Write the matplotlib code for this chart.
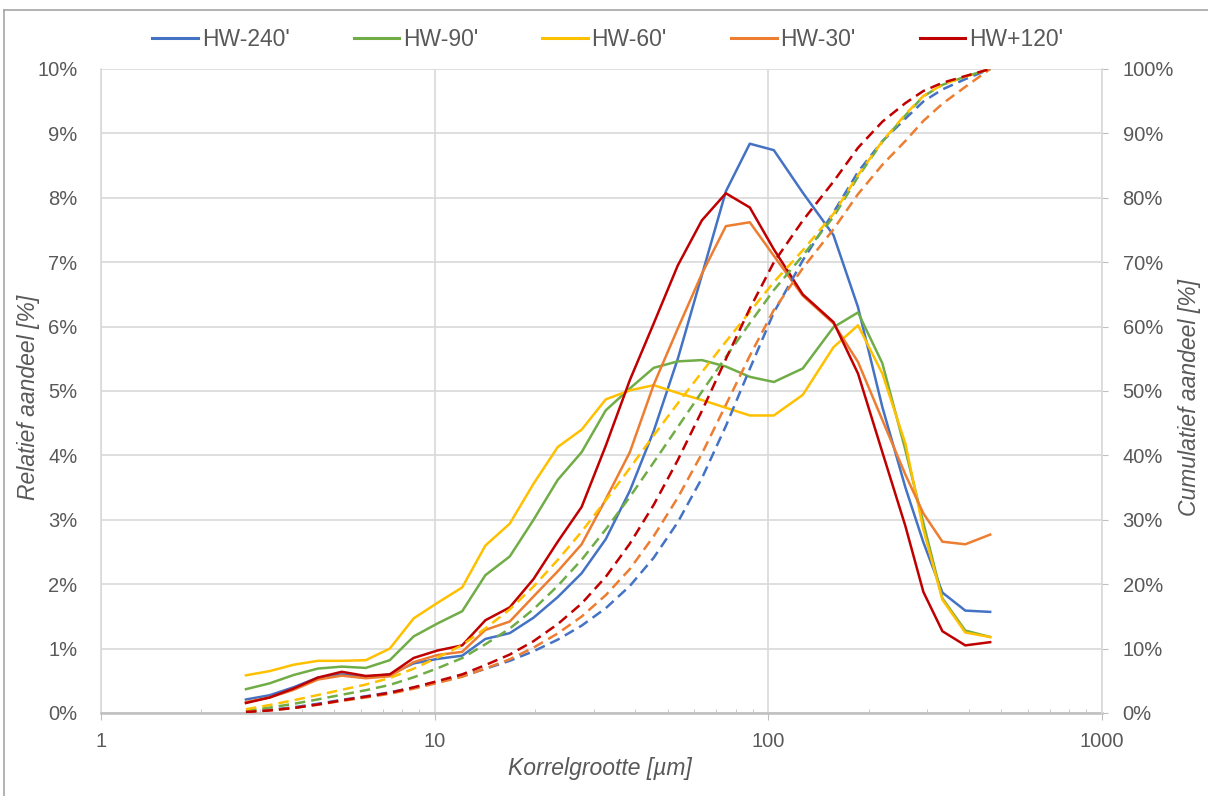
import matplotlib.pyplot as plt
import numpy as np
from matplotlib.ticker import FuncFormatter, LogLocator, NullFormatter
from matplotlib.lines import Line2D

plt.rcParams['font.family'] = ['Liberation Sans', 'DejaVu Sans']

# korrelgrootte (um)
size_um = [2.72, 3.2, 3.78, 4.47, 5.27, 6.22, 7.34, 8.66, 10.2, 12.1, 14.2, 16.8,
           19.8, 23.4, 27.6, 32.6, 38.5, 45.4, 53.6, 63.3, 74.7, 88.1, 104, 127,
           157, 186, 220, 258, 292, 333, 390, 463]

# relatief aandeel (%)
hw_240 = [0.21, 0.275, 0.40, 0.55, 0.60, 0.56, 0.60, 0.77, 0.84, 0.89, 1.15, 1.24,
          1.48, 1.80, 2.17, 2.70, 3.45, 4.38, 5.50, 6.80, 8.10, 8.84, 8.74, 8.08,
          7.42, 6.30, 4.75, 3.50, 2.65, 1.87, 1.59, 1.57]
hw_90 = [0.37, 0.46, 0.59, 0.69, 0.72, 0.70, 0.82, 1.19, 1.39, 1.58, 2.14, 2.43,
         3.00, 3.62, 4.05, 4.70, 5.04, 5.36, 5.46, 5.48, 5.38, 5.22, 5.14, 5.35,
         5.99, 6.22, 5.43, 4.08, 2.95, 1.78, 1.28, 1.18]
hw_60 = [0.585, 0.65, 0.75, 0.81, 0.81, 0.82, 1.00, 1.47, 1.71, 1.95, 2.60, 2.94,
         3.56, 4.13, 4.40, 4.87, 5.01, 5.09, 4.97, 4.86, 4.74, 4.62, 4.62, 4.94,
         5.68, 6.02, 5.27, 4.18, 2.85, 1.76, 1.25, 1.18]
hw_30 = [0.17, 0.24, 0.36, 0.52, 0.58, 0.54, 0.57, 0.79, 0.90, 0.95, 1.29, 1.42,
         1.81, 2.20, 2.62, 3.32, 4.05, 5.10, 5.97, 6.82, 7.56, 7.62, 7.10, 6.48,
         6.05, 5.45, 4.55, 3.70, 3.10, 2.66, 2.62, 2.77]
hw_p120 = [0.155, 0.24, 0.38, 0.55, 0.64, 0.575, 0.60, 0.855, 0.97, 1.05, 1.44, 1.64,
           2.08, 2.66, 3.20, 4.15, 5.17, 6.05, 6.95, 7.65, 8.07, 7.85, 7.20, 6.50,
           6.07, 5.27, 4.05, 2.90, 1.88, 1.27, 1.05, 1.10]

labels = ["HW-240'", "HW-90'", "HW-60'", "HW-30'", "HW+120'"]
colors = ['#4472C4', '#70AD47', '#FFC000', '#ED7D31', '#C00000']
series = [hw_240, hw_90, hw_60, hw_30, hw_p120]

txt = '#595959'
grid = '#d9d9d9'

fig = plt.figure(figsize=(12.08, 7.96), dpi=100)
ax = fig.add_axes([101 / 1208, 1 - 713 / 796, 1000.7 / 1208, 644 / 796])
ax2 = ax.twinx()

for vals, c in zip(series, colors):
    vals = np.array(vals)
    cum = np.cumsum(vals) / vals.sum() * 100   # cumulatief aandeel
    ax.plot(size_um, vals, color=c, lw=1.8, solid_joinstyle='round')
    ax2.plot(size_um, cum, color=c, lw=1.8, linestyle=(0, (4.2, 2.4)))

ax.set_xscale('log')
ax.set_xlim(1, 1000)
ax.set_ylim(0, 10)
ax2.set_ylim(0, 100)
ax.set_yticks(range(0, 11))
ax2.set_yticks(range(0, 101, 10))
ax.yaxis.set_major_formatter(FuncFormatter(lambda v, p: f'{v:.0f}%'))
ax2.yaxis.set_major_formatter(FuncFormatter(lambda v, p: f'{v:.0f}%'))
ax.xaxis.set_major_locator(LogLocator(base=10, numticks=10))
ax.xaxis.set_minor_locator(LogLocator(base=10, subs=np.arange(2, 10), numticks=10))
ax.xaxis.set_minor_formatter(NullFormatter())
ax.xaxis.set_major_formatter(FuncFormatter(lambda v, p: f'{v:g}'))

ax.grid(True, which='major', color=grid, lw=1.2)
ax.set_axisbelow(True)

for s in ['top', 'right']:
    ax.spines[s].set_visible(False)
for s in ['top', 'left', 'bottom']:
    ax2.spines[s].set_visible(False)
ax.spines['left'].set_color(grid)
ax.spines['left'].set_linewidth(1.2)
ax2.spines['right'].set_color(grid)
ax2.spines['right'].set_linewidth(1.2)
ax.spines['bottom'].set_color('#bfbfbf')
ax.spines['bottom'].set_linewidth(1.8)

ax.tick_params(axis='x', which='major', direction='out', length=5, color='#bfbfbf',
               labelsize=14.5, labelcolor=txt, pad=9)
ax.tick_params(axis='x', which='minor', direction='in', length=3, color='#bfbfbf')
ax.tick_params(axis='y', length=0, labelsize=14.5, labelcolor=txt, pad=17)
ax2.tick_params(axis='y', length=4, color='#bfbfbf', labelsize=14.5, labelcolor=txt, pad=11)

ax.set_xlabel('Korrelgrootte [µm]', fontsize=16.5, color=txt, style='italic', va='top')
ax.set_ylabel('Relatief aandeel [%]', fontsize=16.5, color=txt, style='italic')
ax2.set_ylabel('Cumulatief aandeel [%]', fontsize=16.5, color=txt, style='italic', rotation=90)
ax.xaxis.set_label_coords(0.4987, -0.068)
ax.yaxis.set_label_coords(-0.061, 0.49)
ax2.yaxis.set_label_coords(1.076, 0.49)

handles = [Line2D([], [], color=c, lw=2.2) for c in colors]
fig.legend(handles, labels, loc='center', bbox_to_anchor=(0.503, 1 - 40 / 796), ncol=5,
           frameon=False, fontsize=16.5, labelcolor=txt, handlelength=2.0,
           handletextpad=0.15, columnspacing=2.8)

# chart border
fig.add_artist(Line2D([4 / 1208, 1], [1 - 10 / 796, 1 - 10 / 796], color='#a6a6a6', lw=1.2))
fig.add_artist(Line2D([4 / 1208, 4 / 1208], [0, 1 - 10 / 796], color='#a6a6a6', lw=1.2))

fig.savefig('out.png', dpi=100)
